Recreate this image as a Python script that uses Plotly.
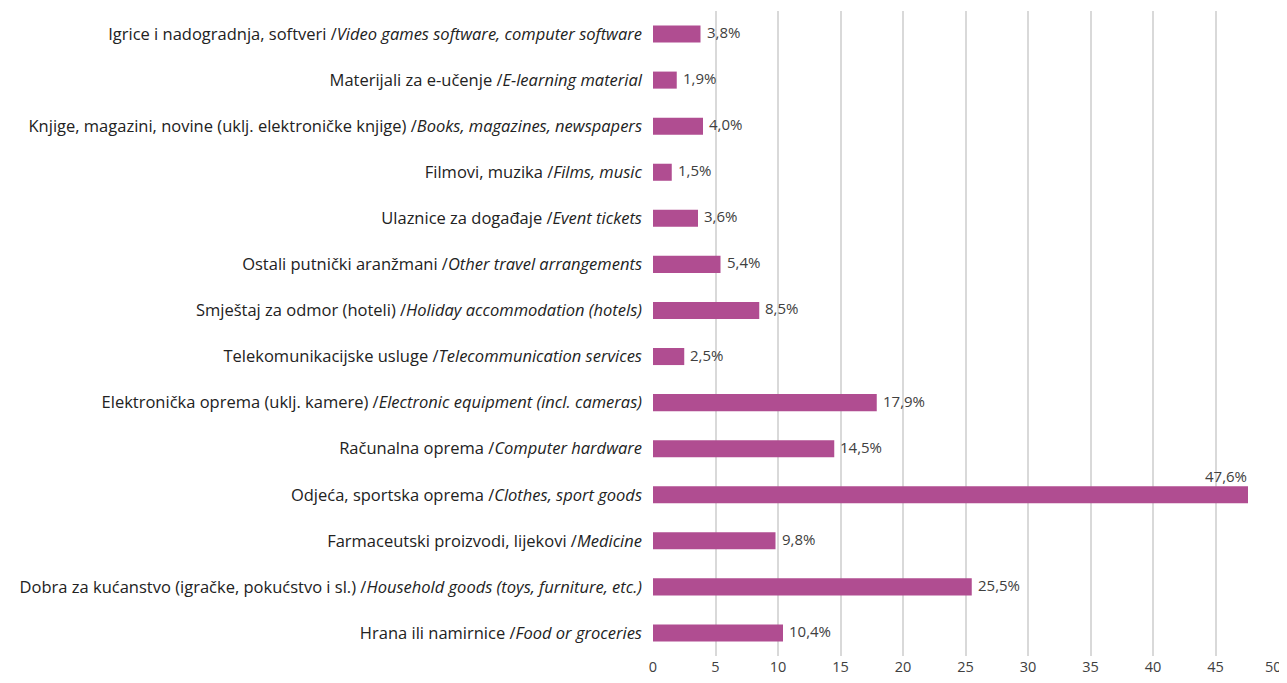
import plotly.graph_objects as go

categories_local = [
    "Igrice i nadogradnja, softveri", "Materijali za e-učenje",
    "Knjige, magazini, novine (uklj. elektroničke knjige)", "Filmovi, muzika",
    "Ulaznice za događaje", "Ostali putnički aranžmani", "Smještaj za odmor (hoteli)",
    "Telekomunikacijske usluge", "Elektronička oprema (uklj. kamere)", "Računalna oprema",
    "Odjeća, sportska oprema", "Farmaceutski proizvodi, lijekovi",
    "Dobra za kućanstvo (igračke, pokućstvo i sl.)", "Hrana ili namirnice",
]
categories_en = [
    "Video games software, computer software", "E-learning material",
    "Books, magazines, newspapers", "Films, music", "Event tickets",
    "Other travel arrangements", "Holiday accommodation (hotels)",
    "Telecommunication services", "Electronic equipment (incl. cameras)",
    "Computer hardware", "Clothes, sport goods", "Medicine",
    "Household goods (toys, furniture, etc.)", "Food or groceries",
]
values = [3.8, 1.9, 4.0, 1.5, 3.6, 5.4, 8.5, 2.5, 17.9, 14.5, 47.6, 9.8, 25.5, 10.4]
x_ticks = [0, 5, 10, 15, 20, 25, 30, 35, 40, 45, 50]

labels = [f"{a} /<i>{b}</i>" for a, b in zip(categories_local, categories_en)]
FONT = "Open Sans"
TICKFONT = dict(family=FONT, size=14.5, color="#404040")

fig = go.Figure(go.Bar(
    x=values, y=labels, orientation="h",
    marker=dict(color="#b04d91", line=dict(width=0)),
    width=0.37, hoverinfo="skip",
))

vmax = max(values)
for v, lab in zip(values, labels):
    txt = f"{v:.1f}".replace(".", ",") + "%"
    if v == vmax:
        fig.add_annotation(x=v, y=lab, text=txt, showarrow=False, xanchor="right",
                           yanchor="bottom", yshift=7, xshift=1,
                           font=dict(family=FONT, size=15, color="#404040"))
    else:
        fig.add_annotation(x=v, y=lab, text=txt, showarrow=False, xanchor="left",
                           xshift=4, yshift=2,
                           font=dict(family=FONT, size=15, color="#404040"))

# last tick label drawn as annotation so it stays inside the page
tick_text = [str(t) for t in x_ticks[:-1]] + [""]
fig.add_annotation(x=x_ticks[-1], xref="x", y=0, yref="paper", text=str(x_ticks[-1]),
                   showarrow=False, xanchor="right", yanchor="middle",
                   xshift=6, yshift=-10, font=TICKFONT)

fig.update_layout(
    width=1271, height=667,
    margin=dict(l=645, r=0, t=3, b=19),
    paper_bgcolor="white", plot_bgcolor="white",
    showlegend=False,
    font=dict(family=FONT, size=16.5, color="#222222"),
    xaxis=dict(range=[0, 50.08], tickvals=x_ticks, ticktext=tick_text, showgrid=True,
               gridcolor="#d9d9d9", gridwidth=1.5, zeroline=False, showline=False,
               ticks="", tickfont=TICKFONT, fixedrange=True),
    yaxis=dict(categoryorder="array", categoryarray=labels[::-1],
               showgrid=False, zeroline=False, showline=False, ticks="",
               ticklabelstandoff=10, tickfont=dict(family=FONT, size=16.5, color="#222222"),
               range=[-0.5, 13.5], fixedrange=True),
)
fig.write_html(
    "out.html",
    config={"displayModeBar": False},
    post_script="document.querySelectorAll('svg.main-svg').forEach(function(s){s.style.overflow='visible';});",
)
